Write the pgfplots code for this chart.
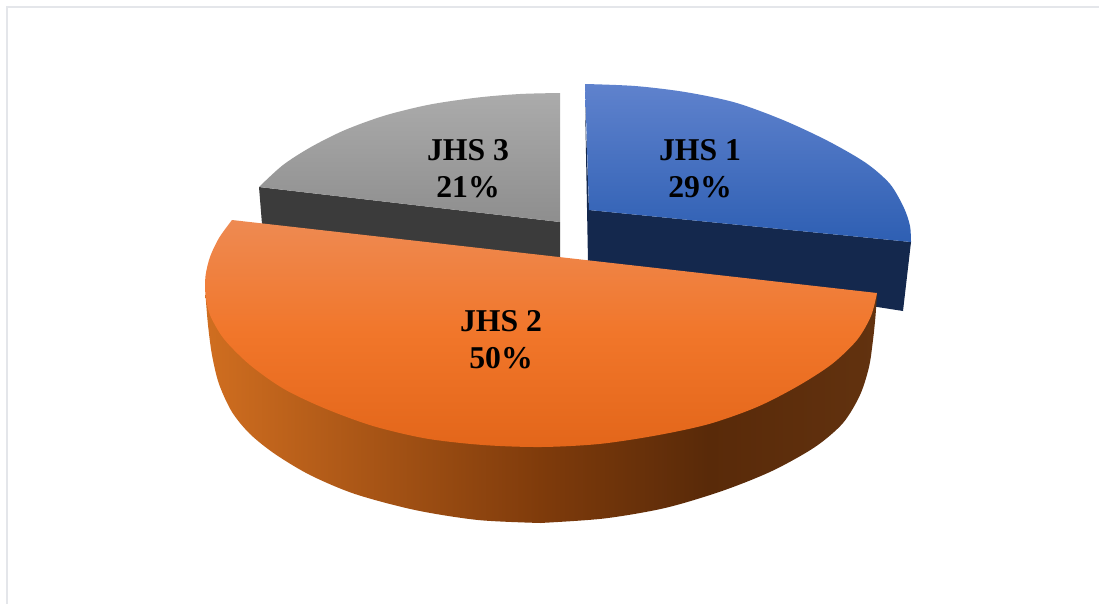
\documentclass[border=0pt]{standalone}
\usepackage{fontspec}
\setmainfont{Liberation Serif}
\usepackage{pgfplots}
\pgfplotsset{compat=1.18}
\definecolor{frameline}{HTML}{E4E6EA}
\definecolor{greytop}{HTML}{ABABAB}
\definecolor{greybot}{HTML}{8E8E8E}
\definecolor{greyside}{HTML}{3B3B3B}
\definecolor{bluetop}{HTML}{5F82CD}
\definecolor{bluebot}{HTML}{2E5FB3}
\definecolor{blueside}{HTML}{14284D}
\definecolor{ortop}{HTML}{EE8A52}
\definecolor{ormid}{HTML}{F1762A}
\definecolor{orbot}{HTML}{E3661A}
\definecolor{sidea}{HTML}{D06E20}
\definecolor{sideb}{HTML}{7F3B0B}
\definecolor{sidec}{HTML}{592A09}
\definecolor{sided}{HTML}{62320F}
\begin{document}
\begin{tikzpicture}
\begin{axis}[
  scale only axis, width=824.25pt, height=453pt,
  xmin=0, xmax=1099, ymin=0, ymax=604, y dir=reverse,
  hide axis, clip=true,
]
\path (rel axis cs:0,0) rectangle (rel axis cs:1,1);
% frame (only top and left show)
\addplot[frameline, line width=1.1pt] coordinates {(7,604) (7,7) (1099,7)};
% JHS 3
\addplot[draw=none, fill=greyside] coordinates {(259,187) (262,224) (560,258) (560,222)} --cycle;
\addplot[draw=none, smooth, top color=greytop, bottom color=greybot] coordinates {
 (259,187) (283,165) (311,147) (345,130) (385,115.5) (430,104.5) (478,97.5) (520,94) (560,93)}
 -- (axis cs:560,222) --cycle;
% JHS 1
\addplot[draw=none, fill=blueside] coordinates {(585,100) (588,262) (903,311) (911,242) (589,210)} --cycle;
\addplot[draw=none, smooth, top color=bluetop, bottom color=bluebot] coordinates {
 (585,84) (635,86) (685,92) (735,102.5) (783,120) (828,141) (866,163) (890,184) (904,208) (910,226) (911,242)}
 -- (axis cs:589,210) --cycle;
% JHS 2 side, two pieces for the shading, top face covers the upper part
\addplot[draw=none, smooth, left color=sidea, right color=sideb] coordinates {
 (205.5,295) (208,325) (212,355) (219,384) (232,412) (250,434) (275,454) (310,475) (355,494) (415,510) (478,520) (541,523)}
 -- (axis cs:541,300) --cycle;
\addplot[draw=none, smooth, left color=sideb, right color=sided, middle color=sidec] coordinates {
 (540,523) (604,518.5) (665,508) (722,491) (772,471) (815,447) (843,423) (860,395) (869,367) (873,340) (875.5,316) (877,293)}
 -- (axis cs:540,300) --cycle;
% JHS 2 top
\addplot[draw=none, smooth, top color=ortop, bottom color=orbot, middle color=ormid] coordinates {
 (232,220) (219,238) (210,257) (205.5,276) (205.5,295) (210,315) (224,339) (250,365) (284,389) (325,408.5) (373,426) (426,438.5) (483,445) (541,447) (599,444) (656,435.5) (709,424) (757,407) (798,386) (832,364) (857,340) (871,316) (877,293)} --cycle;
\node[align=center, font=\fontsize{23.8pt}{27.8pt}\selectfont\bfseries] at (axis cs:700,169) {JHS 1\\29\%};
\node[align=center, font=\fontsize{23.8pt}{27.8pt}\selectfont\bfseries] at (axis cs:468,169) {JHS 3\\21\%};
\node[align=center, font=\fontsize{23.8pt}{27.8pt}\selectfont\bfseries] at (axis cs:501,340) {JHS 2\\50\%};
\end{axis}
\end{tikzpicture}
\end{document}
